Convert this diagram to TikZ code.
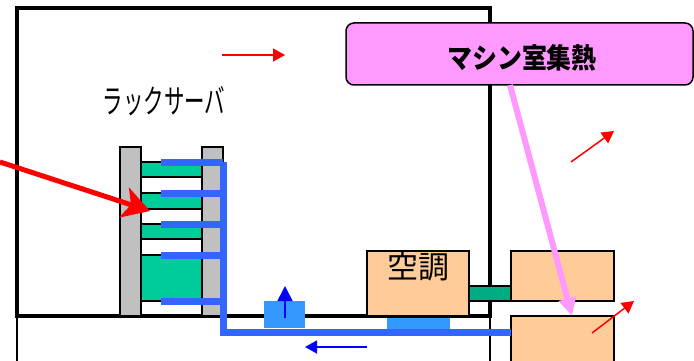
\documentclass[tikz,border=0pt]{standalone}
\usepackage{fontspec}
\usetikzlibrary{arrows.meta}
\newfontfamily\jp{Noto Sans CJK JP}
\definecolor{srv}{RGB}{0, 204, 153}
\definecolor{post}{RGB}{192, 192, 192}
\definecolor{peach}{RGB}{255, 204, 153}
\definecolor{pinkb}{RGB}{255, 153, 255}
\definecolor{blk}{RGB}{51, 153, 255}
\definecolor{pipe}{RGB}{51, 102, 255}
\tikzset{
	box/.style={draw=black, line width=1.5pt, anchor=north west, inner sep=0pt, outer sep=0pt},
	unit/.style={box, fill=peach},
	flow/.style={red, line width=1.5pt, -{Triangle[length=12pt,width=13pt]}},
	cool/.style={pipe, line width=7pt},
}
\begin{document}
\begin{tikzpicture}[x=1pt,y=-1pt]
	\useasboundingbox (0,0) rectangle (694,361);
	\clip (0,0) rectangle (694,361);
	\draw[line width=3.5pt] (17,316)--(17,8)--(490,8)--(490,316)--cycle; % room
	\draw[line width=1.2pt] (17,316)--(17,361);
	\draw[line width=2pt] (490,316)--(490,361);
	\node[box, fill=post, minimum width=21pt, minimum height=169pt] (postL) at (120,147) {};
	\node[box, fill=post, minimum width=21pt, minimum height=169pt] (postR) at (202,147) {};
	\foreach \y/\h in {162/15, 193/16, 224/15, 255/46}{
		\node[box, fill=srv, minimum width=61pt, minimum height=\h pt] (srv\y) at (141,\y) {};}
	\node[anchor=north west, fill=blk, inner sep=0pt, outer sep=0pt, minimum width=41pt, minimum height=27pt] (blkA) at (264,301) {};
	\node[anchor=north west, fill=blk, inner sep=0pt, outer sep=0pt, minimum width=63pt, minimum height=12pt] (blkB) at (387,318) {};
	\node[unit, minimum width=102pt, minimum height=65pt] (ac) at (367,251) {};
	\node[font=\jp\fontsize{31}{31}\selectfont] (aclabel) at (418,267) {空調};
	\node[unit, minimum width=103pt, minimum height=50pt] (outA) at (511,251) {};
	\node[unit, minimum width=103pt, minimum height=60pt] (outB) at (511,316) {};
	\node[box, fill=srv!85!black, minimum width=42pt, minimum height=15pt] (duct) at (469,286) {};
	% pipes
	\coordinate (top) at (223,162);
	\coordinate (elbow) at (223,332);
	\foreach \y in {162, 193, 224, 255, 301}{
		\coordinate (bar\y) at (161,\y);
		\draw[cool] (bar\y)--(223,\y);}
	\draw[cool] (top)--(elbow)--(outB.west |- elbow);
	% airflow
	\coordinate (upA) at (285,318);
	\coordinate (upB) at (285,286);
	\draw[blue, line width=1.5pt, -{Triangle[length=15pt,width=15pt]}] (upA)--(upB);
	\coordinate (backA) at (367,347);
	\coordinate (backB) at (305,347);
	\draw[blue, line width=1.5pt, -{Triangle[length=12pt,width=13pt]}] (backA)--(backB);
	\coordinate (fA) at (222,55);
	\coordinate (fB) at (285,55);
	\draw[flow] (fA)--(fB);
	\coordinate (fC) at (571,162);
	\coordinate (fD) at (614,131);
	\draw[flow] (fC)--(fD);
	\coordinate (fE) at (592,333);
	\coordinate (fF) at (634,301);
	\draw[flow] (fE)--(fF);
	\coordinate (inA) at (0,162);
	\coordinate (inB) at (150,211);
	\draw[red, line width=5pt, -{Stealth[length=27pt,width=31pt,inset=7pt]}] (inA)--(inB);
	\node[font=\jp\fontsize{33}{33}\selectfont, xscale=.62] (rack) at (164,101) {ラックサーバ};
	\node[box, fill=pinkb, rounded corners=8pt, minimum width=347pt, minimum height=62pt] (heat) at (346,23) {};
	\node[font=\jp\bfseries\fontsize{28}{28}\selectfont, xscale=.89] (heatlabel) at (522,58) {マシン室集熱};
	\coordinate (heatout) at (510,85);
	\coordinate (heatin) at (572,316);
	\draw[pinkb, line width=6pt, -{Triangle[length=18pt,width=17pt]}] (heatout)--(heatin);
\end{tikzpicture}
\end{document}
